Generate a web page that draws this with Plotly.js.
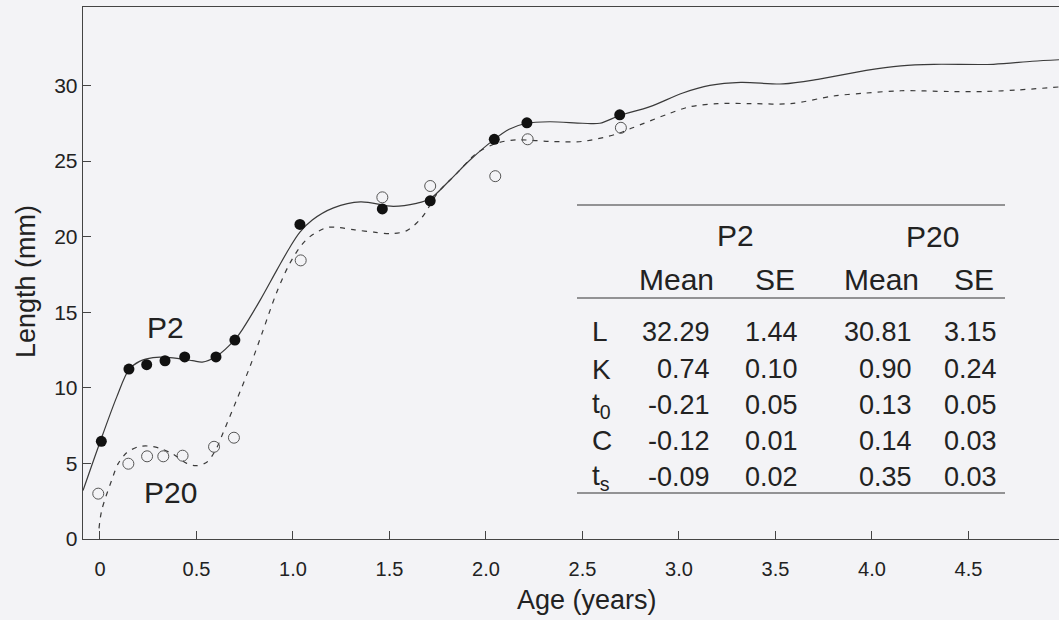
<!DOCTYPE html>
<html>
<head>
<meta charset="utf-8">
<script src="https://cdn.plot.ly/plotly-3.0.1.min.js"></script>
<style>
  html, body { margin: 0; padding: 0; background: #f3f3f6; }
  #chart { width: 1059px; height: 620px; }
</style>
</head>
<body>
<div id="chart"></div>
<script>
const p2Age  = [0.007, 0.150, 0.242, 0.337, 0.439, 0.601, 0.699, 1.036, 1.463, 1.711, 2.043, 2.212, 2.693];
const p2Len  = [6.46, 11.24, 11.53, 11.79, 12.04, 12.04, 13.16, 20.81, 21.83, 22.37, 26.44, 27.53, 28.06];
const p20Age = [-0.009, 0.147, 0.244, 0.328, 0.428, 0.591, 0.694, 1.040, 1.463, 1.711, 2.048, 2.216, 2.699];
const p20Len = [3.0, 4.98, 5.47, 5.47, 5.51, 6.10, 6.70, 18.43, 22.6, 23.35, 24.0, 26.44, 27.2];

// ---- Fitted curves ----
const fitP2Age = [-0.088, 0.0, 0.087, 0.15, 0.205, 0.275, 0.363, 0.48, 0.53, 0.60, 0.70, 0.74, 0.83, 0.917, 0.984, 1.036, 1.10, 1.21, 1.35, 1.52, 1.64, 1.71, 1.81, 1.92, 2.04, 2.12, 2.21, 2.33, 2.50, 2.59, 2.69, 2.85, 3.02, 3.16, 3.32, 3.54, 3.72, 3.97, 4.15, 4.32, 4.63, 4.83, 4.969];
const fitP2Len = [3.2, 6.4, 9.4, 11.2, 11.75, 12.0, 12.0, 11.8, 11.7, 12.05, 13.2, 13.9, 15.8, 17.8, 19.3, 20.3, 21.1, 21.9, 22.3, 22.0, 22.2, 22.5, 23.7, 25.1, 26.4, 27.1, 27.5, 27.6, 27.5, 27.5, 28.0, 28.6, 29.5, 30.0, 30.2, 30.1, 30.4, 31.0, 31.3, 31.4, 31.4, 31.6, 31.7];
const fitP20Age = [-0.005, 0.009, 0.061, 0.095, 0.138, 0.198, 0.25, 0.31, 0.38, 0.45, 0.50, 0.555, 0.60, 0.637, 0.705, 0.777, 0.845, 0.912, 0.974, 1.036, 1.088, 1.176, 1.24, 1.32, 1.42, 1.51, 1.59, 1.67, 1.75, 1.85, 1.95, 2.06, 2.16, 2.33, 2.50, 2.68, 2.76, 2.94, 3.06, 3.20, 3.37, 3.58, 3.80, 3.97, 4.15, 4.40, 4.58, 4.75, 4.969];
const fitP20Len = [0.7, 1.9, 3.9, 5.0, 5.7, 6.1, 6.15, 6.0, 5.6, 5.0, 4.85, 5.1, 5.9, 7.0, 9.1, 11.4, 13.8, 16.2, 18.0, 19.3, 20.0, 20.6, 20.6, 20.45, 20.3, 20.2, 20.4, 21.3, 22.9, 24.2, 25.5, 26.2, 26.4, 26.3, 26.3, 26.8, 27.2, 28.1, 28.6, 28.8, 28.8, 28.8, 29.3, 29.5, 29.65, 29.6, 29.6, 29.7, 29.9];

// ---- Axis ticks ----
const xTickVals = [0, 0.5, 1.0, 1.5, 2.0, 2.5, 3.0, 3.5, 4.0, 4.5];
const xTickText = ["0", "0.5", "1.0", "1.5", "2.0", "2.5", "3.0", "3.5", "4.0", "4.5"];
const yTickVals = [0, 5, 10, 15, 20, 25, 30];
const yTickText = ["0", "5", "10", "15", "20", "25", "30"];

// ---- Parameter table ----
const groupNames = ["P2", "P20"];
const colNames = ["Mean", "SE", "Mean", "SE"];
const paramNames = ["L", "K", "t<sub>0</sub>", "C", "t<sub>s</sub>"];
const p2Mean  = ["32.29", "0.74", "-0.21", "-0.12", "-0.09"];
const p2SE    = ["1.44", "0.10", "0.05", "0.01", "0.02"];
const p20Mean = ["30.81", "0.90", "0.13", "0.14", "0.35"];
const p20SE   = ["3.15", "0.24", "0.05", "0.03", "0.03"];

const FONT = "Liberation Sans, Arial, Helvetica, sans-serif";
const INK = "#222";

const traces = [
  { x: fitP2Age, y: fitP2Len, type: "scatter", mode: "lines",
    line: { color: "#3a3a3a", width: 1.2, shape: "spline", smoothing: 0.9 }, hoverinfo: "skip", name: "P2 fit" },
  { x: fitP20Age, y: fitP20Len, type: "scatter", mode: "lines",
    line: { color: "#3a3a3a", width: 1.2, dash: "5px,6px", shape: "spline", smoothing: 0.9 }, hoverinfo: "skip", name: "P20 fit" },
  { x: p2Age, y: p2Len, type: "scatter", mode: "markers", name: "P2",
    marker: { symbol: "circle", size: 11, color: "#111" } },
  { x: p20Age, y: p20Len, type: "scatter", mode: "markers", name: "P20",
    marker: { symbol: "circle-open", size: 11, color: "#555", line: { width: 1, color: "#555" } } }
];

// pixel -> paper helpers (plot area: x 83..1059, y 7..539)
const px = v => (v - 83) / 976;
const py = v => (539 - v) / 532;

const annotations = [];
function ann(text, x, y, size, xanchor, extra) {
  annotations.push(Object.assign({
    text: text, x: x, y: y, xref: "paper", yref: "paper",
    xanchor: xanchor || "center", yanchor: "middle", showarrow: false,
    font: { family: FONT, size: size, color: INK }
  }, extra || {}));
}

// axis titles
ann("Age (years)", px(586.5), py(600), 27, "center");
ann("Length (mm)", px(26), py(282), 27, "center", { textangle: -90 });
// curve labels
ann("P2", px(165.7), py(327.5), 30, "center");
ann("P20", px(170.5), py(492.8), 30, "center");
// table headers
ann(groupNames[0], px(735.7), py(235), 30, "center");
ann(groupNames[1], px(932), py(237), 30, "center");
const colX = [676.7, 775, 881.7, 974.3];
colNames.forEach((c, i) => ann(c, px(colX[i]), py(280), 30, "center"));
// table rows
const rowY = [331.7, 369, 405, 440.7, 477];
const valRight = [712.3, 800, 914.3, 999.3];
const cols = [p2Mean, p2SE, p20Mean, p20SE];
paramNames.forEach((p, r) => {
  ann(p, px(590), py(rowY[r]), 28, "left");
  cols.forEach((col, c) => ann(col[r], px(valRight[c]), py(rowY[r]), 27, "right"));
});

const lineStyle = { color: "#333", width: 1.2 };
const shapes = [
  { type: "line", xref: "paper", yref: "paper", x0: px(577), x1: px(1005), y0: py(205), y1: py(205), line: lineStyle },
  { type: "line", xref: "paper", yref: "paper", x0: px(577), x1: px(1005), y0: py(298), y1: py(298), line: lineStyle },
  { type: "line", xref: "paper", yref: "paper", x0: px(577), x1: px(1005), y0: py(493), y1: py(493), line: lineStyle }
];

const layout = {
  width: 1059, height: 620,
  margin: { l: 83, r: 0, t: 7, b: 81, pad: 0 },
  paper_bgcolor: "#f3f3f6",
  plot_bgcolor: "#f3f3f6",
  showlegend: false,
  font: { family: FONT, color: INK },
  xaxis: {
    range: [-0.088, 4.969], tickvals: xTickVals, ticktext: xTickText,
    ticks: "inside", ticklen: 8, tickwidth: 1, tickcolor: "#444",
    showline: true, linecolor: "#444", linewidth: 1.3, mirror: true,
    showgrid: false, zeroline: false,
    tickfont: { family: FONT, size: 20, color: INK },
    ticklabelstandoff: 12
  },
  yaxis: {
    range: [0, 35.19], tickvals: yTickVals, ticktext: yTickText,
    ticks: "inside", ticklen: 8, tickwidth: 1, tickcolor: "#444",
    showline: true, linecolor: "#444", linewidth: 1.3,
    showgrid: false, zeroline: false,
    tickfont: { family: FONT, size: 21, color: INK }
  },
  annotations: annotations,
  shapes: shapes
};

Plotly.newPlot("chart", traces, layout, { staticPlot: true, displayModeBar: false });
</script>
</body>
</html>
